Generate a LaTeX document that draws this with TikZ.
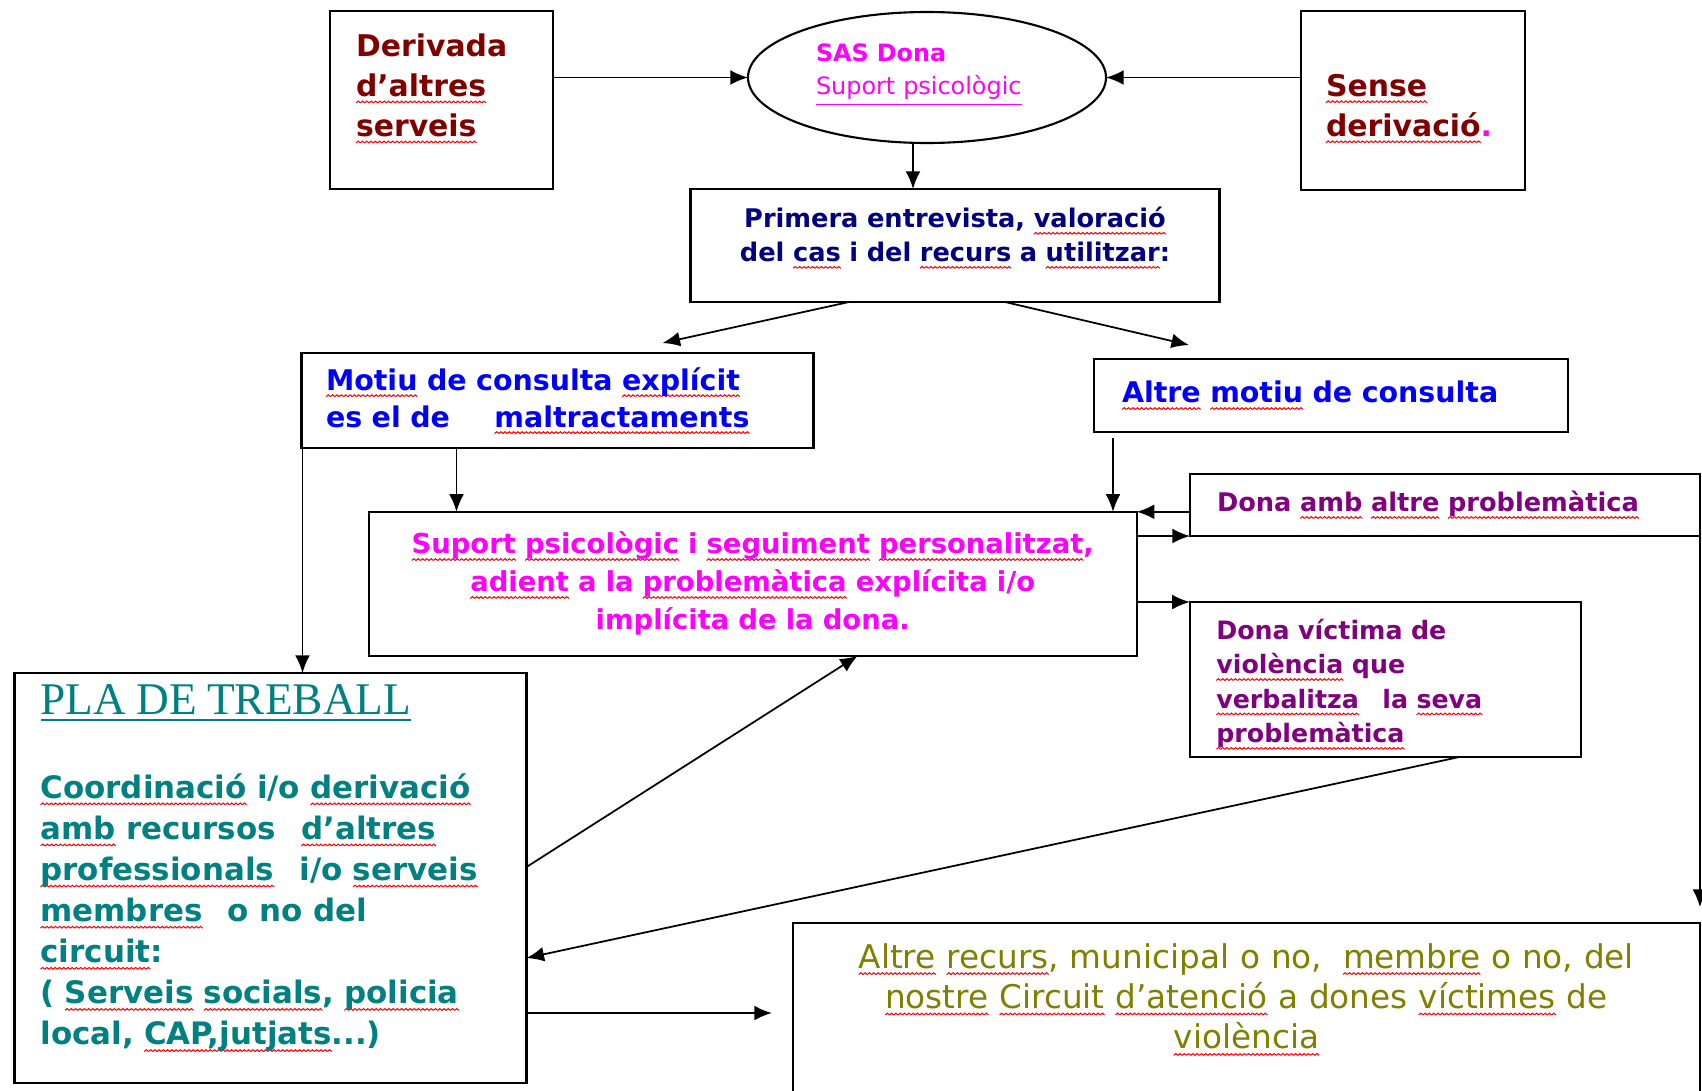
\documentclass[tikz,border=0pt]{standalone}
\usepackage{fontspec}
\setmainfont[WordSpace=2]{DejaVu Sans}
\newfontfamily\plafont{Liberation Serif}
\usetikzlibrary{arrows.meta,shapes.geometric}

\definecolor{granat}{RGB}{128,0,0}
\definecolor{rosa}{RGB}{255,0,255}
\definecolor{mari}{RGB}{0,0,128}
\definecolor{blau}{RGB}{0,0,255}
\definecolor{lila}{RGB}{128,0,128}
\definecolor{verdblau}{RGB}{0,128,128}
\definecolor{oliva}{RGB}{128,128,0}

% tros d'ona per al subratllat vermell
\newsavebox{\onabox}
\sbox{\onabox}{\tikz{\path[use as bounding box] (0,-0.3pt) rectangle (1.2pt,0.3pt);
  \draw[red,line width=0.3pt] (0,-0.25pt) -- (0.6pt,0.25pt) -- (1.2pt,-0.25pt);}}
% paraula amb subratllat ondulat vermell
\newcommand{\sq}[1]{\leavevmode\setbox0=\hbox{#1}%
  \rlap{\lower1.9pt\hbox to\wd0{\xleaders\copy\onabox\hfill}}\box0\relax}

\begin{document}
\begin{tikzpicture}[x=0.1mm,y=-0.1mm,>={Latex[length=5pt,width=4.2pt]},
  caixa/.style={draw,line width=0.6pt,inner sep=0pt,outer sep=0pt},
  fletxa/.style={->,line width=0.5pt}]
\useasboundingbox (0,0) rectangle (1702,1090);

% fila de dalt
\node[caixa,minimum width=22.3mm,minimum height=17.8mm,text width=17.1mm,align=left,
  text=granat,font=\fontsize{8.5}{11.4}\selectfont\bfseries] (deriv) at (441.5,100)
  {Derivada\\\sq{d’altres}\\\sq{serveis}\rule[-3mm]{0pt}{0pt}};
\node[caixa,ellipse,minimum width=35.8mm,minimum height=13.1mm,text width=22.2mm,align=left,
  text=rosa,font=\fontsize{6.8}{9.4}\selectfont] (sas) at (927,77.5)
  {{\bfseries SAS Dona}\\\underline{Suport psicològic}\rule[-1.6mm]{0pt}{0pt}};
\node[caixa,minimum width=22.4mm,minimum height=17.9mm,text width=17.4mm,align=left,
  text=granat,font=\fontsize{8.5}{11.4}\selectfont\bfseries] (sense) at (1413,100.5)
  {\rule{0pt}{3.8mm}\sq{Sense}\\\sq{derivació}\textcolor{rosa}{.}};
\node[caixa,minimum width=52.9mm,minimum height=11.3mm,text width=50mm,align=center,
  text=mari,font=\fontsize{7.3}{9.7}\selectfont\bfseries] (primera) at (955,245.5)
  {Primera entrevista, \sq{valoració}\\del \sq{cas} i del \sq{recurs} a \sq{utilitzar}:\rule[-2.2mm]{0pt}{0pt}};

% motius
\node[caixa,minimum width=51.2mm,minimum height=9.5mm,text width=46.3mm,align=left,
  text=blau,font=\fontsize{8.1}{10.5}\selectfont\bfseries] (motiu) at (557.5,400.5)
  {\sq{Motiu} de consulta \sq{explícit}\\es el de\hspace{3.5mm} \sq{maltractaments}};
\node[caixa,minimum width=47.4mm,minimum height=7.3mm,text width=41.8mm,align=left,
  text=blau,font=\fontsize{8.1}{10.5}\selectfont\bfseries] (altremotiu) at (1331,395.5)
  {\sq{Altre} \sq{motiu} de consulta};

% suport i casos
\node[caixa,minimum width=76.8mm,minimum height=14.4mm,text width=74mm,align=center,
  text=rosa,font=\fontsize{7.8}{10.8}\selectfont\bfseries] (suport) at (752.7,583.8)
  {\sq{Suport} \sq{psicològic} i \sq{seguiment} \sq{personalitzat},\\\sq{adient} a la \sq{problemàtica} explícita i/o\\implícita de la dona.};
\node[caixa,minimum width=51mm,minimum height=6.2mm,text width=45.6mm,align=left,
  text=lila,font=\fontsize{7.3}{9.8}\selectfont\bfseries] (altraprob) at (1445,505)
  {Dona \sq{amb} \sq{altre} \sq{problemàtica}};
\node[caixa,minimum width=39.1mm,minimum height=15.5mm,text width=33.8mm,align=left,
  text=lila,font=\fontsize{7.2}{9.8}\selectfont\bfseries] (victima) at (1385.3,679.5)
  {\rule{0pt}{3mm}Dona víctima de\\\sq{violència} que\\\sq{verbalitza}\hspace{1.5mm} la \sq{seva}\\\sq{problemàtica}};

% fila de baix
\node[caixa,minimum width=51.2mm,minimum height=41mm,text width=46mm,align=left,
  text=verdblau,font=\fontsize{8.8}{11.7}\selectfont\bfseries] (pla) at (270.5,878)
  {{\plafont\mdseries\fontsize{12.9}{14}\selectfont\underline{PLA DE TREBALL}}\\[12pt]
   \sq{Coordinació} i/o \sq{derivació}\\
   \sq{amb} recursos\hspace{1.5mm} \sq{d’altres}\\
   \sq{professionals}\hspace{1.5mm} i/o \sq{serveis}\\
   \sq{membres}\hspace{1.5mm} o no del\\
   \sq{circuit}:\\
   ( \sq{Serveis} \sq{socials}, \sq{policia}\\
   local, \sq{CAP,jutjats}...)\rule[-2.6mm]{0pt}{0pt}};
\node[caixa,minimum width=90.7mm,minimum height=18mm,text width=88mm,align=center,
  text=oliva,font=\fontsize{9.3}{11.5}\selectfont] (recurs) at (1246.4,1013)
  {\sq{Altre} \sq{recurs}, municipal o no,\hspace{1mm} \sq{membre} o no, del\\\sq{nostre} \sq{Circuit} \sq{d’atenció} a dones \sq{víctimes} de\\\sq{violència}\rule[-3.4mm]{0pt}{0pt}};

% fletxes
\draw[fletxa] (deriv.east |- sas.west) -- (sas.west);
\draw[fletxa] (sense.west |- sas.east) -- (sas.east);
\draw[fletxa] ([xshift=-1.4mm]sas.south) -- ([xshift=-1.4mm]sas.south |- primera.north);
\draw[fletxa] ([xshift=-10.6mm]primera.south) -- ([xshift=10.5mm,yshift=1mm]motiu.north);
\draw[fletxa] ([xshift=5mm]primera.south) -- ([xshift=-14.2mm,yshift=1.4mm]altremotiu.north);
\draw[fletxa] ([xshift=0.1mm]motiu.south west) -- ([xshift=0.1mm]motiu.south west |- pla.north);
\draw[fletxa] ([xshift=-10.1mm]motiu.south) -- ([xshift=-10.1mm]motiu.south |- suport.north);
\draw[fletxa] ([xshift=1.9mm,yshift=-0.6mm]altremotiu.south west) -- ([xshift=1.9mm]altremotiu.south west |- suport.north);
\draw[fletxa] (altraprob.west |- suport.north east) -- (suport.north east);
\draw[fletxa] (suport.east |- altraprob.south west) -- (altraprob.south west);
\draw[fletxa] (altraprob.south east) -- ([yshift=1.6mm]recurs.north east);
\draw[fletxa] (suport.east |- victima.north west) -- (victima.north west);
\draw[fletxa] ([xshift=7.4mm]victima.south) -- ([yshift=-8mm]pla.east);
\draw[fletxa] ([yshift=1.1mm]pla.east) -- ([xshift=10.5mm]suport.south);
\draw[fletxa] (pla.east |- recurs.west) -- ([xshift=-2.1mm]recurs.west);
\end{tikzpicture}
\end{document}
